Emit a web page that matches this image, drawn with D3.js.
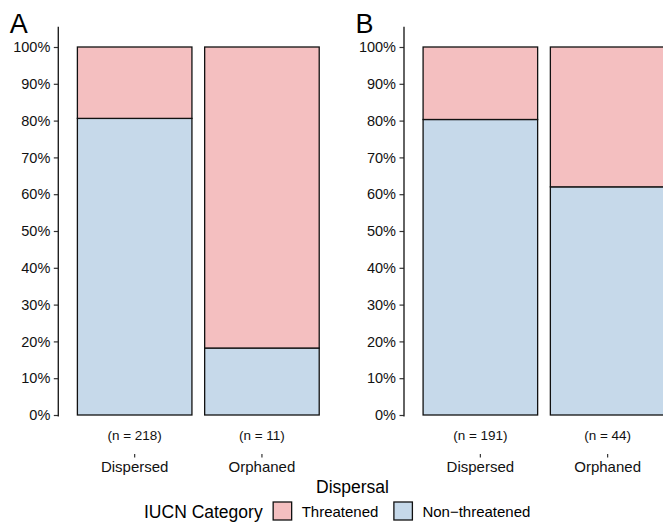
<!DOCTYPE html>
<html>
<head>
<meta charset="utf-8">
<script src="https://cdn.jsdelivr.net/npm/d3@7"></script>
<style>
  html, body { margin: 0; padding: 0; background: #fff; overflow: hidden; }
  svg { display: block; font-family: "Liberation Sans", Arial, sans-serif; }
</style>
</head>
<body>
<div id="chart"></div>
<script>
const dispersal = ["Dispersed", "Orphaned"];
const panelLabels = ["A", "B"];
const categories = ["Non\u2212threatened", "Threatened"];
const legendOrder = ["Threatened", "Non\u2212threatened"];

// share of species per group
const nonThreatenedA = [0.806, 0.182];
const threatenedA    = [0.194, 0.818];
const nonThreatenedB = [0.803, 0.620];
const threatenedB    = [0.197, 0.380];

const countsA = [218, 11];
const countsB = [191, 44];

const yTickValues = [0, 0.1, 0.2, 0.3, 0.4, 0.5, 0.6, 0.7, 0.8, 0.9, 1.0];

const COLORS = {
    "Threatened": "#f4bfc0",
    "Non\u2212threatened": "#c6d9ea",
};

const W = 663, H = 523;
const Y0 = 415, Y1 = 47;          // 0% and 100%
const XAXIS_Y = 454;
const PANEL_W = 280;

const svg = d3.select("#chart").append("svg")
    .attr("width", W).attr("height", H);

const y = d3.scaleLinear().domain([0, 1]).range([Y0, Y1]);

function drawPanel(left, label, nonThr, thr, counts) {
    const g = svg.append("g");

    const rows = dispersal.map((d, i) => ({
        group: d,
        "Non\u2212threatened": nonThr[i],
        "Threatened": thr[i],
    }));
    const stacked = d3.stack().keys(categories)(rows);

    const x = d3.scaleBand()
        .domain(dispersal)
        .range([left, left + PANEL_W])
        .paddingInner(0.1)
        .paddingOuter(0.15);

    stacked.forEach(layer => {
        g.append("g").selectAll("rect")
            .data(layer)
            .join("rect")
            .attr("x", d => x(d.data.group))
            .attr("width", x.bandwidth())
            .attr("y", d => y(d[1]))
            .attr("height", d => y(d[0]) - y(d[1]))
            .attr("fill", COLORS[layer.key])
            .attr("stroke", "#111")
            .attr("stroke-width", 1.3);
    });

    // y axis
    const yAxis = g.append("g")
        .attr("transform", `translate(${left},0)`)
        .call(d3.axisLeft(y).tickValues(yTickValues)
            .tickFormat(d3.format(".0%")).tickSize(4.5).tickSizeOuter(0).tickPadding(3.5));
    yAxis.select(".domain").remove();
    yAxis.append("line")
        .attr("x1", 0).attr("x2", 0)
        .attr("y1", y(1.055)).attr("y2", Y0 + 1.5)
        .attr("stroke", "#222").attr("stroke-width", 1.4);
    yAxis.selectAll(".tick line").attr("stroke", "#333").attr("stroke-width", 1.2);
    yAxis.selectAll("text").attr("fill", "#111").style("font-size", "14.5px");

    // x axis (no line)
    const xAxis = g.append("g")
        .attr("transform", `translate(0,${XAXIS_Y})`)
        .call(d3.axisBottom(x).tickSize(3.5).tickSizeOuter(0).tickPadding(3.5));
    xAxis.select(".domain").remove();
    xAxis.selectAll(".tick line").attr("stroke", "#333").attr("stroke-width", 1.2);
    xAxis.selectAll("text").attr("fill", "#111").style("font-size", "15px");

    // sample sizes
    g.append("g").selectAll("text")
        .data(dispersal)
        .join("text")
        .attr("x", d => x(d) + x.bandwidth() / 2)
        .attr("y", 439.5)
        .attr("text-anchor", "middle")
        .style("font-size", "13.5px")
        .attr("fill", "#111")
        .text((d, i) => `(n = ${counts[i]})`);

    // panel tag
    g.append("text")
        .attr("x", left - 48.5)
        .attr("y", 33.3)
        .style("font-size", "27px")
        .attr("fill", "#000")
        .text(label);
}

drawPanel(58.3, panelLabels[0], nonThreatenedA, threatenedA, countsA);
drawPanel(404, panelLabels[1], nonThreatenedB, threatenedB, countsB);

// x title
svg.append("text")
    .attr("x", 352.5).attr("y", 493)
    .attr("text-anchor", "middle")
    .style("font-size", "17.5px")
    .attr("fill", "#000")
    .text("Dispersal");

// legend
const legend = svg.append("g");
let lx = 144;
const title = legend.append("text")
    .attr("x", lx).attr("y", 518)
    .style("font-size", "17.5px")
    .attr("fill", "#000")
    .text("IUCN Category");
lx += title.node().getComputedTextLength() + 10.5;

legendOrder.forEach(k => {
    legend.append("rect")
        .attr("x", lx).attr("y", 502)
        .attr("width", 18.5).attr("height", 18)
        .attr("fill", COLORS[k])
        .attr("stroke", "#111").attr("stroke-width", 1.3);
    lx += 18.5 + 10;
    const t = legend.append("text")
        .attr("x", lx).attr("y", 517)
        .style("font-size", "15px")
        .attr("fill", "#000")
        .text(k);
    lx += t.node().getComputedTextLength() + 15.5;
});
</script>
</body>
</html>
